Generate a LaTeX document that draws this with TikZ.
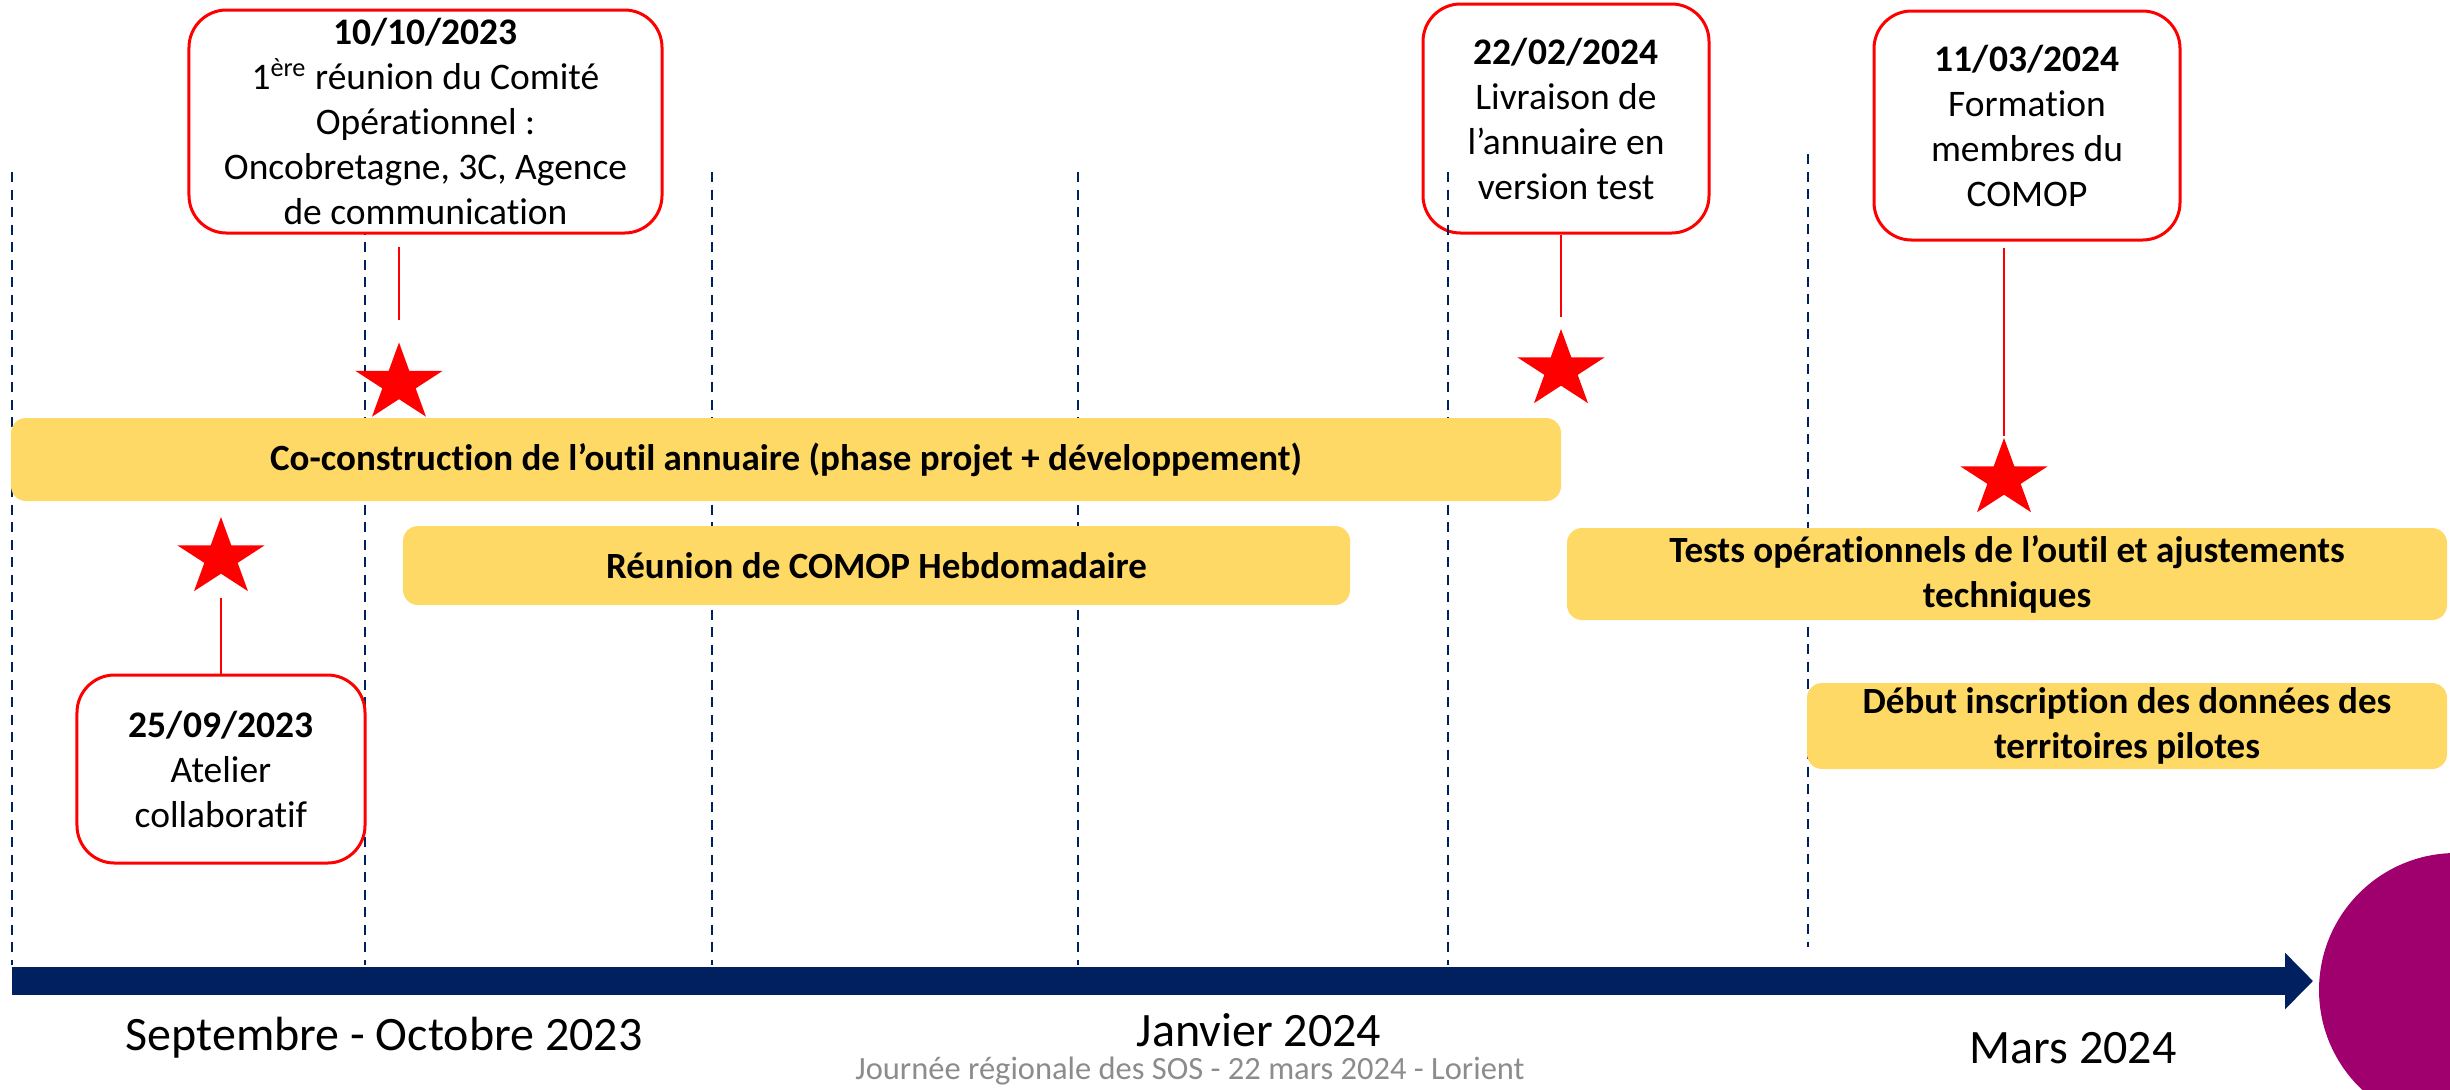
\documentclass[tikz,border=0pt]{standalone}
\usepackage{fontspec}
\setmainfont{Carlito}[Ligatures=NoCommon]
\usetikzlibrary{shapes.geometric,arrows.meta}
\definecolor{navy}{HTML}{002060}
\definecolor{gold}{HTML}{FFD966}
\definecolor{plum}{HTML}{A0006E}
\definecolor{footgray}{HTML}{8C8C8C}
\begin{document}
\begin{tikzpicture}[x=0.4pt, y=-0.4pt,
  evt/.style = {draw=red, line width=1.2pt, fill=white, rounded corners=15pt, align=center, inner sep=0pt, font=\fontsize{15}{18}\selectfont},
  phase/.style = {fill=gold, rounded corners=6pt, align=center, inner sep=0pt, font=\fontsize{14.8}{18}\selectfont\bfseries},
  starmark/.style = {star, star points=5, star point ratio=2.618, fill=red, inner sep=0pt, minimum size=32.8pt, xscale=1.12, transform shape},
  vline/.style = {navy, line width=1pt, dash pattern=on 4pt off 3pt},
  link/.style = {red, line width=0.6pt},
  month/.style = {anchor=base, font=\fontsize{19.2}{22}\selectfont}]
\useasboundingbox (0,0) rectangle (2450,1089);
\foreach \x in {12,365,712,1078}
  \draw[vline] (\x,172) -- (\x,965);
\draw[vline] (1808,154) -- (1808,947);
\node[evt, minimum width=115.2pt, minimum height=75.2pt] (e1) at (221,769) {\textbf{25/09/2023}\\Atelier\\collaboratif};
\node[evt, minimum width=189.2pt, minimum height=89.2pt] (e2) at (425.5,121.5) {\textbf{10/10/2023}\\1\textsuperscript{ère} réunion du Comité\\Opérationnel :\\Oncobretagne, 3C, Agence\\de communication};
\node[evt, minimum width=114.4pt, minimum height=91.6pt] (e3) at (1566,118.5) {\textbf{22/02/2024}\\Livraison de\\l’annuaire en\\version test};
\node[evt, minimum width=122.4pt, minimum height=91.6pt] (e4) at (2027,125.5) {\textbf{11/03/2024}\\Formation\\membres du\\COMOP};
\draw[vline] (1448,172) -- (1448,965);
\node[phase, minimum width=620pt, minimum height=33.2pt] (p1) at (786,459.5) {Co-construction de l’outil annuaire (phase projet + développement)};
\node[phase, minimum width=378.8pt, minimum height=31.6pt] (p2) at (876.5,565.5) {Réunion de COMOP Hebdomadaire};
\node[phase, minimum width=352pt, minimum height=36.8pt] (p3) at (2007,574) {Tests opérationnels de l’outil et ajustements\\techniques};
\node[phase, minimum width=256pt, minimum height=34.4pt] (p4) at (2127,726) {Début inscription des données des\\territoires pilotes};
\node[starmark] (s1) at (221,558) {};
\node[starmark] (s2) at (399,383.5) {};
\node[starmark] (s3) at (1561,370) {};
\node[starmark] (s4) at (2004,479) {};
\draw[link] ([yshift=-16pt]s1.center) -- (s1 |- e1.north);
\draw[link] ([yshift=-4.8pt]s2 |- e2.south) -- ([yshift=8.4pt]s2.north);
\draw[link] (s3 |- e3.south) -- ([yshift=4pt]s3.north);
\draw[link] ([yshift=-2.4pt]s4 |- e4.south) -- (s4.north);
\coordinate (t0) at (12,981);
\coordinate (t1) at (2313,981);
\draw[navy, line width=11.2pt, -{Triangle[length=11.2pt, width=22pt]}] (t0) -- (t1);
\fill[plum] (2456,990) circle[radius=54.8pt];
\node[month] (m1) at (384,1050) {Septembre - Octobre 2023};
\node[month] (m2) at (1259,1046) {Janvier 2024};
\node[month] (m3) at (2073,1063) {Mars 2024};
\node[anchor=base, footgray, font=\fontsize{13}{14}\selectfont] (foot) at (1190,1079) {Journée régionale des SOS - 22 mars 2024 - Lorient};
\end{tikzpicture}
\end{document}
